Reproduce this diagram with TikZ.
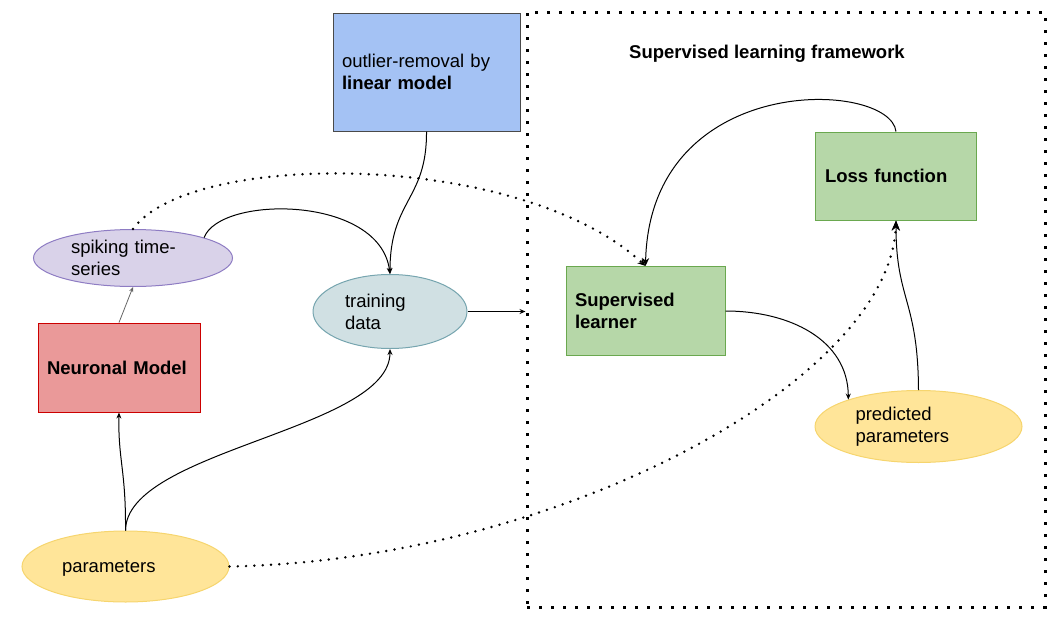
\documentclass[tikz,border=0pt]{standalone}
\usepackage{fontspec}
\setmainfont{Liberation Sans}
\usetikzlibrary{arrows.meta,shapes.geometric}

\definecolor{outlierfill}{HTML}{A4C2F4}
\definecolor{outlierline}{HTML}{4A4A4A}
\definecolor{learnfill}{HTML}{B6D7A8}
\definecolor{learnline}{HTML}{6AA84F}
\definecolor{neurofill}{HTML}{EA9999}
\definecolor{neuroline}{HTML}{CC0000}
\definecolor{spikefill}{HTML}{D9D2E9}
\definecolor{spikeline}{HTML}{8E7CC3}
\definecolor{trainfill}{HTML}{D0E0E3}
\definecolor{trainline}{HTML}{76A5AF}
\definecolor{paramfill}{HTML}{FFE599}
\definecolor{paramline}{HTML}{F6D56E}

\begin{document}
\begin{tikzpicture}[x=1pt,y=-1pt,
  every node/.style={font=\fontsize{18.5}{22}\selectfont},
  box/.style={draw,rectangle,inner sep=0pt,align=left,line width=1pt},
  blob/.style={draw,ellipse,inner sep=0pt,align=left,line width=1pt},
  link/.style={line width=1pt,-{Stealth[length=6pt,width=5pt]}},
  biglink/.style={line width=1pt,-{Stealth[length=10pt,width=8pt]}},
  dots/.style={line width=2.7pt,line cap=round,dash pattern=on 0pt off 8.3pt}]
  \useasboundingbox (0,0) rectangle (1053,640);
  % framework
  \node[draw,line width=3pt,dash pattern=on 3pt off 9pt,minimum width=518pt,minimum height=595pt] (frame) at (786,309.5) {};
  \node[text depth=0pt] (title) at (767,52) {\textbf{Supervised learning framework}};
  % nodes
  \node[box,fill=outlierfill,draw=outlierline,minimum width=187pt,minimum height=118pt,text width=169pt] (outlier) at (426.5,72) {outlier-removal by\\\textbf{linear model}};
  \node[box,fill=learnfill,draw=learnline,minimum width=161pt,minimum height=88pt,text width=142pt] (loss) at (896,176) {\textbf{Loss function}};
  \node[box,fill=learnfill,draw=learnline,minimum width=159pt,minimum height=89pt,text width=141pt] (learner) at (645.5,311) {\textbf{Supervised}\\\textbf{learner}};
  \node[box,fill=neurofill,draw=neuroline,minimum width=162pt,minimum height=89pt,text width=144pt] (neuro) at (119,367.5) {\textbf{Neuronal Model}};
  \node[blob,fill=spikefill,draw=spikeline,minimum width=199pt,minimum height=57pt,text width=124pt] (spike) at (133,258) {spiking time-\\series};
  \node[blob,fill=trainfill,draw=trainline,minimum width=154pt,minimum height=74pt,text width=90pt] (train) at (390,311.5) {training\\data};
  \node[blob,fill=paramfill,draw=paramline,minimum width=207pt,minimum height=72pt,text width=126pt] (pred) at (918.5,426.5) {predicted\\parameters};
  \node[blob,fill=paramfill,draw=paramline,minimum width=207pt,minimum height=71pt,text width=127pt,text depth=0pt] (params) at (125.5,566.5) {parameters};
  % connectors
  \draw[link] (params.north) .. controls (126,470) and (118,460) .. (neuro.south);
  \draw[link] (params.north) .. controls (126,450) and (390,430) .. (train.south);
  \draw[gray!80!black,line width=0.8pt,-{Stealth[length=5pt,width=4pt]}] (neuro.north) -- (spike.south);
  \draw[link] (spike.16) .. controls (220,195) and (380,195) .. (train.north);
  \draw[link] (outlier.south) .. controls (427,200) and (390,200) .. (train.north);
  \draw[link] (train.east) -- (train.east -| frame.west);
  \draw[dots,-{Stealth[length=8pt,width=7pt]}] (spike.north) .. controls (190,150) and (520,150) .. (learner.north);
  \draw[line width=1pt,-{Stealth[length=8pt,width=7pt]}] (loss.north) .. controls (890,80) and (650,70) .. (learner.north);
  \draw[link] (learner.east) .. controls (790,311) and (848,340) .. (pred.159);
  \draw[biglink] (pred.north) .. controls (918,300) and (896,300) .. (loss.south);
  \draw[dots,-{Stealth[length=10pt,width=8pt]}] (params.east) .. controls (560,560) and (890,380) .. (loss.south);
\end{tikzpicture}
\end{document}
